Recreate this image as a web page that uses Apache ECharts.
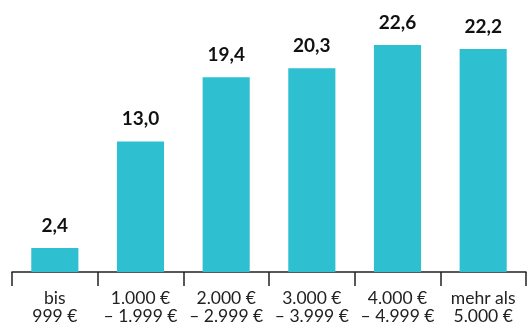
<!DOCTYPE html>
<html>
<head>
<meta charset="utf-8">
<script src="https://cdn.jsdelivr.net/npm/echarts@6/dist/echarts.min.js"></script>
<style>
  html, body { margin: 0; padding: 0; background: #fff; }
  #chart { width: 529px; height: 327px; }
</style>
</head>
<body>
<div id="chart"></div>
<script>
// Einkommensklassen und Werte
var categories = ['bis\n999 €', '1.000 €\n– 1.999 €', '2.000 €\n– 2.999 €', '3.000 €\n– 3.999 €', '4.000 €\n– 4.999 €', 'mehr als\n5.000 €'];
var values = [2.4, 13.0, 19.4, 20.3, 22.6, 22.2];

var chart = echarts.init(document.getElementById('chart'));
chart.setOption({
    animation: false,
    grid: { left: 12, right: 3, top: 21, bottom: 55 },
    xAxis: {
        type: 'category',
        data: categories,
        axisLine: { lineStyle: { color: '#222', width: 1.5 } },
        axisTick: { show: true, length: 14, lineStyle: { color: '#222', width: 1.5 } },
        axisLabel: {
            interval: 0,
            margin: 17,
            color: '#222',
            fontFamily: 'Lato',
            fontSize: 17.5,
            lineHeight: 18
        }
    },
    yAxis: {
        type: 'value',
        min: 0,
        max: 25,
        show: false
    },
    series: [{
        type: 'bar',
        data: values,
        barWidth: '55%',
        itemStyle: { color: '#2ebfd1' },
        label: {
            show: true,
            position: 'top',
            distance: 13,
            color: '#111',
            fontFamily: 'Lato',
            fontWeight: 'bold',
            fontSize: 19,
            formatter: function (p) {
                return p.value.toFixed(1).replace('.', ',');
            }
        }
    }]
});
</script>
</body>
</html>
